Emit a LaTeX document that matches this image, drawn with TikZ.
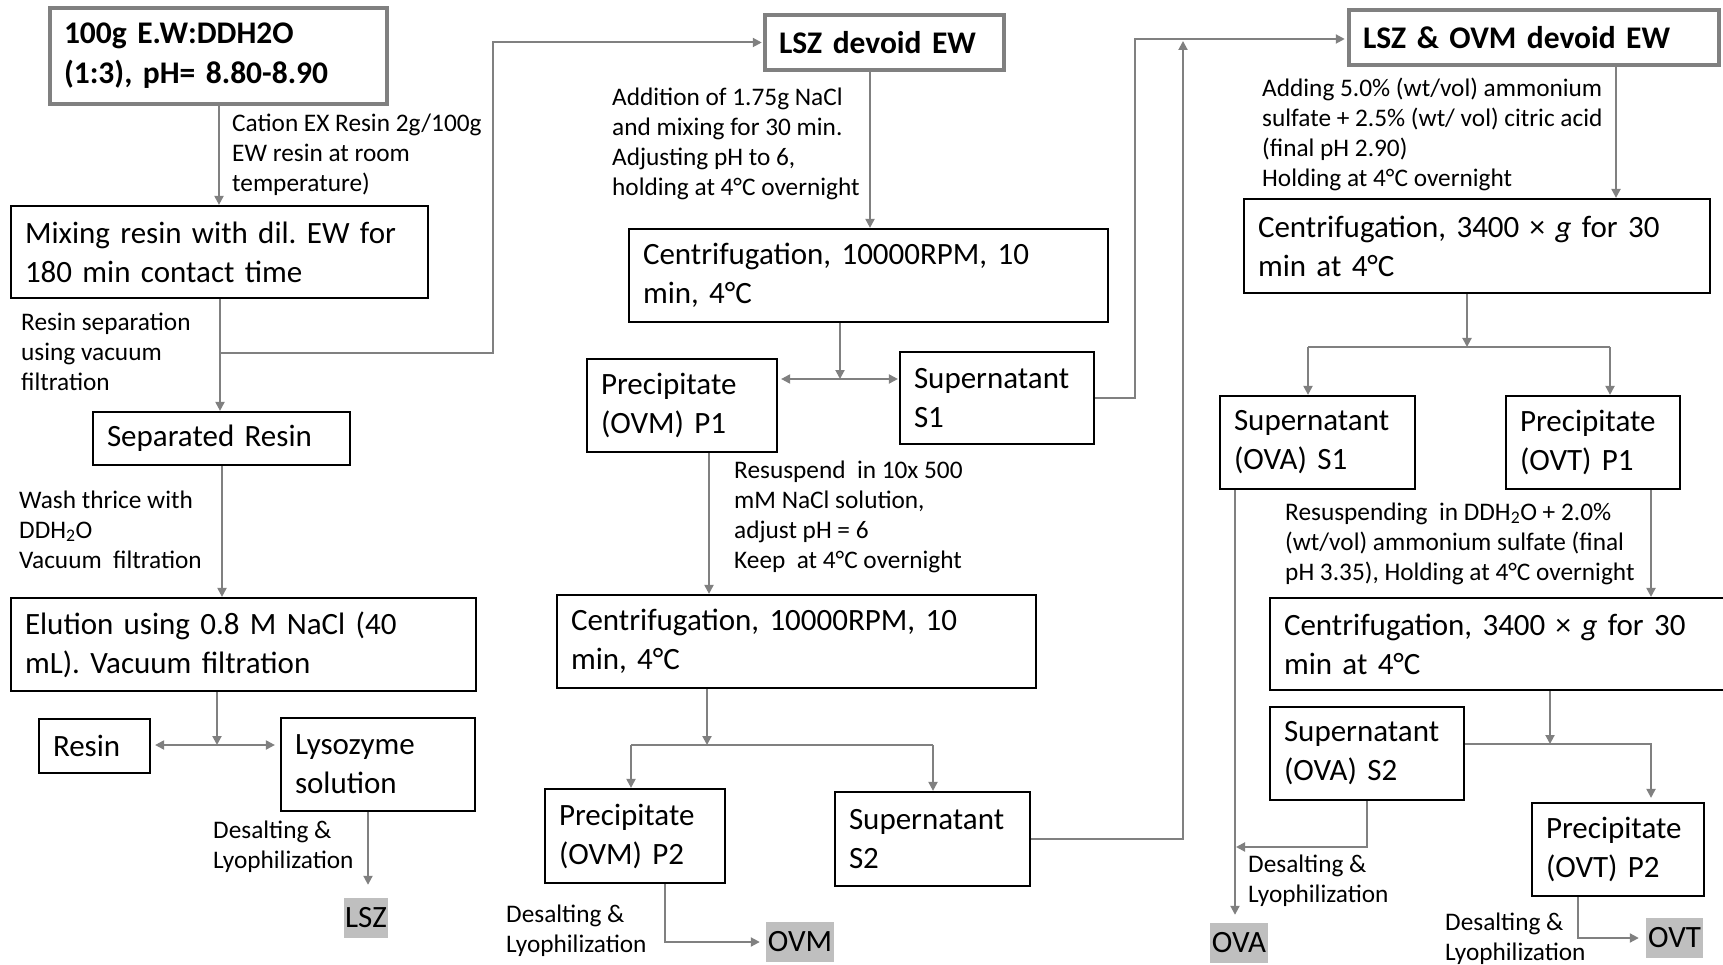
\documentclass[tikz,border=0pt]{standalone}
\usepackage{fontspec}
\setmainfont{Carlito}
\usetikzlibrary{arrows.meta}
\definecolor{linegray}{HTML}{808080}
\definecolor{prodgray}{HTML}{BFBFBF}
\frenchspacing

% process box given by its corners (x1,y1)-(x2,y2)
\newcommand\procbox[7][]{%
  \pgfmathsetmacro\bw{#5-#3}%
  \pgfmathsetmacro\bh{#6-#4}%
  \pgfmathsetmacro\tw{#5-#3-28}%
  \pgfmathsetmacro\bx{(#3+#5)/2}%
  \pgfmathsetmacro\by{(#4+#6)/2}%
  \node[procstyle,#1,minimum width=\bw pt,minimum height=\bh pt,text width=\tw pt] (#2) at (\bx,\by) {#7};%
}

\begin{document}
\begin{tikzpicture}[x=1pt,y=-1pt,
  procstyle/.style={draw=black,line width=2.2pt,rectangle,inner xsep=14pt,inner ysep=0pt,
    align=left,font=\fontsize{31}{39}\selectfont},
  title/.style={draw=linegray,line width=4.5pt,font=\bfseries\fontsize{31.5}{40}\selectfont},
  product/.style={fill=prodgray,inner sep=0pt,font=\fontsize{31}{32}\selectfont},
  note/.style={anchor=base west,align=left,inner sep=0pt,font=\fontsize{25.3}{30}\selectfont},
  conn/.style={draw=linegray,line width=2pt},
  arr/.style={conn,-{Triangle[length=9pt,width=9pt]}},
  dbl/.style={conn,{Triangle[length=9pt,width=9pt]}-{Triangle[length=9pt,width=9pt]}}]
\useasboundingbox (0,0) rectangle (1723,965);
\fill[white] (0,0) rectangle (1723,965);

% ---- lysozyme column ----
\procbox[title]{t1}{50}{8}{387}{104}{100g E.W:DDH2O\\(1:3), pH= 8.80-8.90}
\procbox{mix}{11}{206}{428}{298}{Mixing resin with dil. EW for\\180 min contact time}
\procbox{sep}{93}{412}{350}{465}{Separated Resin}
\procbox{elu}{11}{598}{476}{691}{Elution using 0.8 M NaCl (40\\mL). Vacuum filtration}
\procbox{resin}{39}{719}{150}{773}{Resin}
\procbox{lyso}{281}{718}{475}{811}{Lysozyme\\solution}
\node[product,minimum width=44pt,minimum height=40pt] (lszp) at (366,918) {LSZ};

% ---- ovomucoid column ----
\procbox[title]{lszd}{765}{15}{1004}{70}{LSZ devoid EW}
\procbox{cent1}{629}{229}{1108}{322}{Centrifugation, 10000RPM, 10\\min, 4°C}
\procbox{p1}{587}{359}{777}{452}{Precipitate\\(OVM) P1}
\procbox{s1}{900}{352}{1094}{444}{Supernatant\\S1}
\procbox{cent2}{557}{595}{1036}{688}{Centrifugation, 10000RPM, 10\\min, 4°C}
\procbox{p2}{545}{789}{725}{883}{Precipitate\\(OVM) P2}
\procbox{s2}{835}{792}{1030}{886}{Supernatant\\S2}
\node[product,minimum width=68pt,minimum height=40pt] (ovmp) at (800,942) {OVM};

% ---- ovalbumin / ovotransferrin column ----
\procbox[title]{lso}{1349}{10}{1719}{65}{LSZ \& OVM devoid EW}
\procbox{cent3}{1244}{199}{1710}{293}{Centrifugation, 3400 × \textit{g} for 30\\min at 4°C}
\procbox{ova1}{1220}{396}{1415}{489}{Supernatant\\(OVA) S1}
\procbox{ovt1}{1506}{396}{1680}{489}{Precipitate\\(OVT) P1}
\procbox{cent4}{1270}{598}{1745}{690}{Centrifugation, 3400 × \textit{g} for 30\\min at 4°C}
\procbox{ova2}{1270}{707}{1464}{800}{Supernatant\\(OVA) S2}
\procbox{ovt2}{1532}{803}{1704}{896}{Precipitate\\(OVT) P2}
\node[product,minimum width=58pt,minimum height=40pt] (ovap) at (1239,943) {OVA};
\node[product,minimum width=57pt,minimum height=40pt] (ovtp) at (1674.5,938) {OVT};

% ---- step notes (placed at the baseline of their last line) ----
\node[note] (n1) at (232,192) {Cation EX Resin 2g/100g\\EW resin at room\\temperature)};
\node[note] (n2) at (21,390) {Resin separation\\using vacuum\\filtration};
\node[note] (n3) at (19,568) {Wash thrice with\\DDH\textsubscript{2}O\\Vacuum~ filtration};
\node[note] (n4) at (213,868) {Desalting \&\\Lyophilization};
\node[note] (n5) at (612,196) {Addition of 1.75g NaCl\\and mixing for 30 min.\\Adjusting pH to 6,\\holding at 4°C overnight};
\node[note] (n6) at (734,568) {Resuspend~ in 10x 500\\mM NaCl solution,\\adjust pH = 6\\Keep~ at 4°C overnight};
\node[note] (n7) at (506,952) {Desalting \&\\Lyophilization};
\node[note] (n8) at (1262,187) {Adding 5.0\% (wt/vol) ammonium\\sulfate + 2.5\% (wt/ vol) citric acid\\(final pH 2.90)\\Holding at 4°C overnight};
\node[note] (n9) at (1285,580) {Resuspending~ in DDH\textsubscript{2}O + 2.0\%\\(wt/vol) ammonium sulfate (final\\pH 3.35), Holding at 4°C overnight};
\node[note] (n10) at (1248,902) {Desalting \&\\Lyophilization};
\node[note] (n11) at (1445,960) {Desalting \&\\Lyophilization};

% ---- connectors: lysozyme column ----
\coordinate (a1) at (219,0);
\draw[arr] (t1.south -| a1) -- (mix.north -| a1);
\coordinate (ja) at (220,353);
\coordinate (ka) at (493,353);
\draw[arr] (mix.south -| ja) -- (sep.north -| ja);
\draw[arr,shorten >=1pt] (ja) -- (ka) |- (lszd.west);
\coordinate (a2) at (222,0);
\draw[arr] (sep.south -| a2) -- (elu.north -| a2);
\coordinate (jb) at (217,745);
\draw[arr] (elu.south -| jb) -- (jb);
\draw[dbl,shorten <=4pt,shorten >=5pt] (jb -| resin.east) -- (jb -| lyso.west);
\coordinate (a3) at (368,0);
\draw[arr,shorten >=13pt] (lyso.south -| a3) -- (lszp.north -| a3);

% ---- connectors: ovomucoid column ----
\coordinate (b1) at (870,0);
\draw[arr] (lszd.south -| b1) -- (cent1.north -| b1);
\coordinate (jc) at (840,379);
\draw[arr] (cent1.south -| jc) -- (jc);
\draw[dbl,shorten <=3pt,shorten >=1pt] (jc -| p1.east) -- (jc -| s1.west);
\coordinate (kc) at (1135,39);
\draw[arr,shorten >=2pt] (s1.east) -| (kc) -- (kc -| lso.west);
\coordinate (kd) at (1183,41);
\draw[arr] (s2.east) -| (kd);
\coordinate (b2) at (709,0);
\draw[arr] (p1.south -| b2) -- (cent2.north -| b2);
\coordinate (je) at (707,745);
\draw[arr] (cent2.south -| je) -- (je);
\coordinate (jf) at (631,745);
\coordinate (jg) at (933,745);
\draw[conn] (jf) -- (jg);
\draw[arr] (jf) -- (p2.north -| jf);
\draw[arr] (jg) -- (s2.north -| jg);
\coordinate (b3) at (665,0);
\draw[arr,shorten >=6pt] (p2.south -| b3) |- (ovmp.west);

% ---- connectors: ovalbumin / ovotransferrin column ----
\coordinate (c1) at (1616,0);
\draw[arr] (lso.south -| c1) -- (cent3.north -| c1);
\coordinate (jh) at (1467,347);
\draw[arr] (cent3.south -| jh) -- (jh);
\coordinate (ji) at (1308,347);
\coordinate (jj) at (1610,347);
\draw[conn] (ji) -- (jj);
\draw[arr] (ji) -- (ova1.north -| ji);
\draw[arr] (jj) -- (ovt1.north -| jj);
\coordinate (c2) at (1235,0);
\draw[arr,shorten >=8pt] (ova1.south -| c2) -- (ovap.north -| c2);
\coordinate (c3) at (1651,0);
\draw[arr] (ovt1.south -| c3) -- (cent4.north -| c3);
\coordinate (jk) at (1550,744);
\draw[arr] (cent4.south -| jk) -- (jk);
\draw[arr,shorten >=4pt] (ova2.east |- jk) -| (ovt2.north -| c3);
\coordinate (jl) at (1236,847);
\coordinate (c4) at (1367,0);
\draw[arr] (ova2.south -| c4) |- (jl);
\coordinate (c5) at (1578,0);
\draw[arr,shorten >=7pt] (ovt2.south -| c5) |- (ovtp.west);
\end{tikzpicture}
\end{document}
